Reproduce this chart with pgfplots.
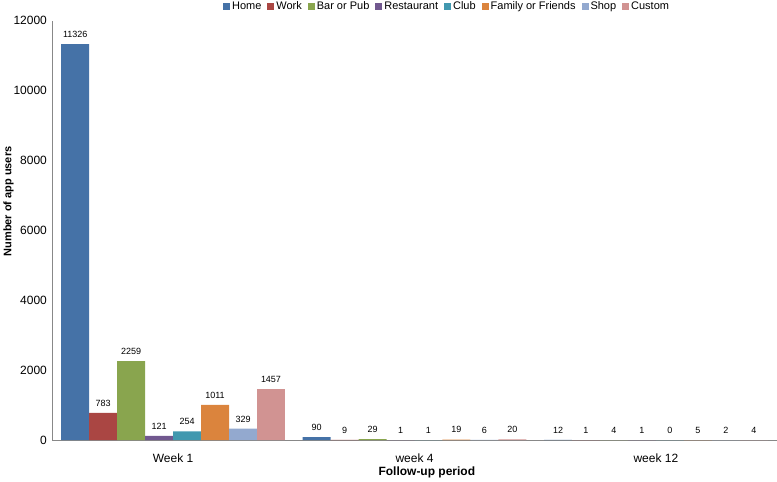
\documentclass[border=0pt]{standalone}
\usepackage{pgfplots}
\pgfplotsset{compat=1.18}
\usepackage{fontspec}
\setmainfont{Liberation Sans}
\definecolor{cHome}{HTML}{4572A7}
\definecolor{cWork}{HTML}{AA4643}
\definecolor{cBar}{HTML}{89A54E}
\definecolor{cRest}{HTML}{71588F}
\definecolor{cClub}{HTML}{4198AF}
\definecolor{cFam}{HTML}{DB843D}
\definecolor{cShop}{HTML}{93A9CF}
\definecolor{cCust}{HTML}{D19392}
\definecolor{axisgray}{HTML}{888888}
\begin{document}
\begin{tikzpicture}
\begin{axis}[
  name=ax,
  scale only axis,
  width=725pt, height=420pt,
  ybar=0pt, bar width=28pt,
  xmin=-0.5, xmax=2.5,
  ymin=0, ymax=12000,
  xtick={0,1,2},
  xticklabels={Week 1, week 4, week 12},
  ytick={0,2000,4000,6000,8000,10000,12000},
  /pgf/number format/1000 sep={},
  /pgf/number format/assume math mode=true,
  scaled y ticks=false,
  axis lines*=left,
  axis line style={axisgray, line width=0.8pt},
  major tick length=0pt,
  tick label style={font=\fontsize{12}{14}\selectfont},
  xticklabel style={yshift=-10pt},
  yticklabel style={xshift=-2pt},
  xlabel={\textbf{Follow-up period}},
  ylabel={\textbf{Number of app users}},
  xlabel style={font=\fontsize{12}{14}\selectfont, at={(axis description cs:0.517,-0.0762)},
     anchor=center},
  ylabel style={font=\fontsize{11}{13}\selectfont, at={(axis description cs:-0.0607,0.569)},
     anchor=center},
  nodes near coords,
  every node near coord/.append style={font=\fontsize{9}{10}\selectfont, yshift=3pt,
     /pgf/number format/assume math mode=true},
  legend columns=-1,
  legend style={draw=none, fill=none, at={(0.545,1)}, anchor=south, yshift=7pt,
     font=\fontsize{11}{12}\selectfont, inner sep=0pt,
     /tikz/every even column/.append style={column sep=4pt}},
  legend image code/.code={\fill[#1] (0pt,-3.5pt) rectangle (7pt,3.5pt);},
  enlarge x limits=false,
]
\addplot[fill=cHome, draw=none] coordinates {(0,11326) (1,90) (2,12)};
\addplot[fill=cWork, draw=none] coordinates {(0,783) (1,9) (2,1)};
\addplot[fill=cBar, draw=none] coordinates {(0,2259) (1,29) (2,4)};
\addplot[fill=cRest, draw=none] coordinates {(0,121) (1,1) (2,1)};
\addplot[fill=cClub, draw=none] coordinates {(0,254) (1,1) (2,0)};
\addplot[fill=cFam, draw=none] coordinates {(0,1011) (1,19) (2,5)};
\addplot[fill=cShop, draw=none] coordinates {(0,329) (1,6) (2,2)};
\addplot[fill=cCust, draw=none] coordinates {(0,1457) (1,20) (2,4)};
\legend{Home, Work, Bar or Pub, Restaurant, Club, Family or Friends, Shop, Custom}
\end{axis}
\path (ax.south west) ++(-52pt,-41pt) rectangle ([yshift=20pt]ax.north east);
\end{tikzpicture}
\end{document}
